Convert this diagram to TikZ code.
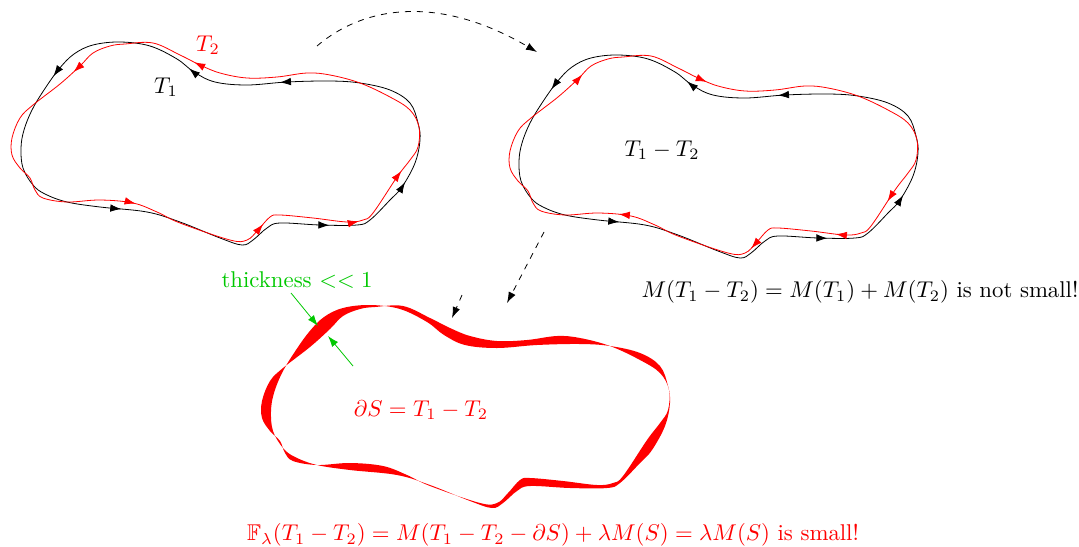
\documentclass[tikz,border=0pt]{standalone}
\usepackage{amsmath,amssymb}
\usetikzlibrary{arrows.meta,decorations.markings}
\definecolor{tgreen}{RGB}{0,200,0}
\def\Tone{plot[smooth cycle,tension=0.6] coordinates {(150,46) (120,42) (93,45) (74,54) (59,69) (44,90) (32,110) (24,130) (21,148) (23,168) (33,185) (45,194) (67,202) (100,207) (147,212) (180,222) (220,238) (242,245) (253,240) (267,228) (280,223) (320,225) (357,225) (370,220) (390,200) (402,187) (415,163) (420,140) (418,123) (410,103) (390,90) (360,83) (330,81) (287,82) (247,85) (215,82) (194,72) (177,59)}}
\def\Ttwo{plot[smooth cycle,tension=0.6] coordinates {(153,43) (125,44) (110,46) (93,53) (80,66) (60,84) (33,105) (20,118) (12,138) (12,155) (20,168) (30,178) (35,190) (43,198) (67,202) (100,200) (133,203) (157,212) (180,223) (230,240) (247,240) (258,230) (270,217) (280,215) (313,218) (347,222) (363,220) (373,213) (397,177) (410,160) (418,147) (419,127) (410,110) (390,97) (360,83) (330,75) (307,73) (277,77) (247,78) (220,73) (200,65) (180,55)}}
\tikzset{
  >={Latex[length=5.5pt,width=3.8pt]},
  blackarrows/.style={postaction={decorate},decoration={markings,
    mark=at position 0.079 with {\arrow{>}},
    mark=at position 0.293 with {\arrow{>}},
    mark=at position 0.515 with {\arrow{>}},
    mark=at position 0.609 with {\arrow{>}},
    mark=at position 0.829 with {\arrow{>}},
    mark=at position 0.924 with {\arrow{>}}}},
  redarrows/.style={postaction={decorate},decoration={markings,
    mark=at position 0.061 with {\arrow{>}},
    mark=at position 0.319 with {\arrow{>}},
    mark=at position 0.461 with {\arrow{>}},
    mark=at position 0.561 with {\arrow{>}},
    mark=at position 0.629 with {\arrow{>}},
    mark=at position 0.926 with {\arrow{>}}}},
  redrevarrows/.style={postaction={decorate},decoration={markings,
    mark=at position 0.046 with {\arrowreversed{>}},
    mark=at position 0.304 with {\arrowreversed{>}},
    mark=at position 0.446 with {\arrowreversed{>}},
    mark=at position 0.540 with {\arrowreversed{>}},
    mark=at position 0.608 with {\arrowreversed{>}},
    mark=at position 0.910 with {\arrowreversed{>}}}},
  flow/.style={dashed,->},
  thin arrow/.style={tgreen,->},
  lbl/.style={inner sep=1pt,scale=1.14}
}
\begin{document}
\begin{tikzpicture}[x=0.5pt,y=-0.5pt]
\useasboundingbox (0,0) rectangle (1079,546);
% left pair
\begin{scope}
  \draw[black,blackarrows] \Tone;
  \draw[red,redarrows] \Ttwo;
\end{scope}
% right pair
\begin{scope}[shift={(498,13)}]
  \draw[black,blackarrows] \Tone;
  \draw[red,redrevarrows] \Ttwo;
\end{scope}
% bottom filled region
\begin{scope}[shift={(250,263)}]
  \fill[red,even odd rule] \Tone \Ttwo;
\end{scope}
% labels
\node[lbl] (T1label) at (166,87) {$T_1$};
\node[lbl,text=red] (T2label) at (208,45) {$T_2$};
\node[lbl] (difflabel) at (662,150) {$T_1-T_2$};
\node[lbl] (masslabel) at (860,292) {$M(T_1-T_2)=M(T_1)+M(T_2)$ is not small!};
\node[lbl,text=tgreen] (thicklabel) at (297,280) {thickness $<<1$};
\node[lbl,text=red] (bdlabel) at (421,410) {$\partial S=T_1-T_2$};
\node[lbl,text=red] (flatlabel) at (553,535) {$\mathbb{F}_\lambda(T_1-T_2)=M(T_1-T_2-\partial S)+\lambda M(S)=\lambda M(S)$ is small!};
% connectors
\coordinate (a1) at (317,46);
\coordinate (a2) at (537,52);
\draw[flow] (a1) .. controls (365,5) and (440,-5) .. (a2);
\coordinate (b1) at (544,232);
\coordinate (b2) at (507,303);
\draw[flow] (b1) -- (b2);
\coordinate (c1) at (462,295);
\coordinate (c2) at (452,318);
\draw[flow] (c1) -- (c2);
\coordinate (g1) at (291,293);
\coordinate (g2) at (318,326);
\draw[thin arrow] (g1) -- (g2);
\coordinate (g3) at (353,366);
\coordinate (g4) at (328,336);
\draw[thin arrow] (g3) -- (g4);
\end{tikzpicture}
\end{document}
